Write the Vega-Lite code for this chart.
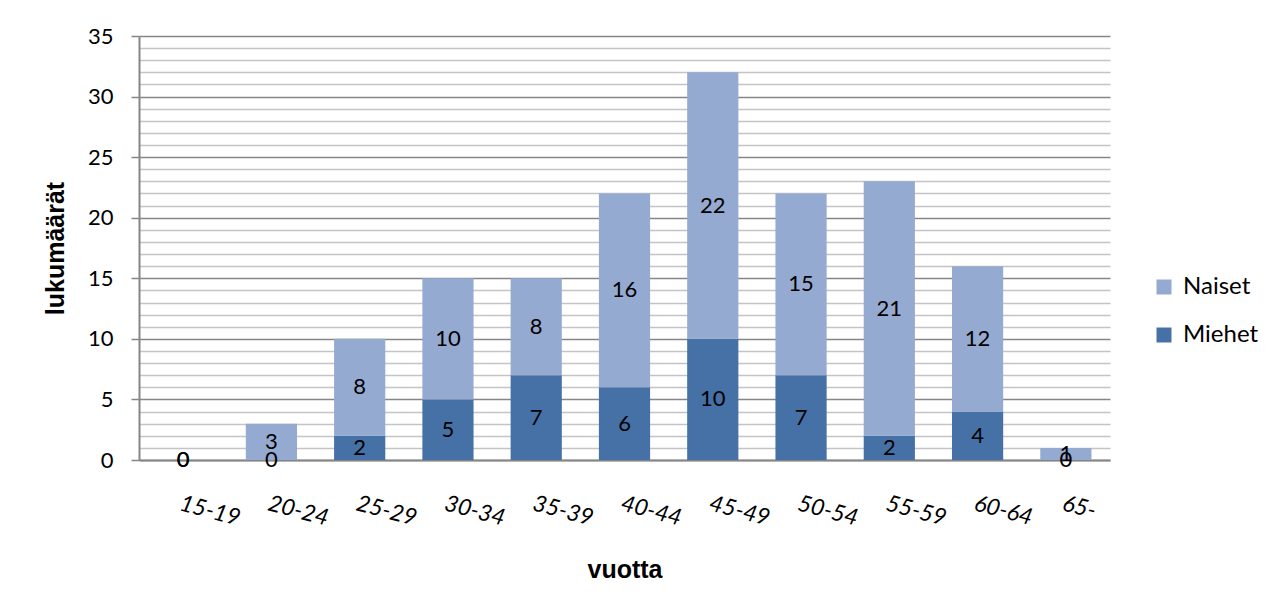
{
  "$schema": "https://vega.github.io/schema/vega-lite/v6.json",
  "width": 971,
  "height": 424,
  "autosize": "none",
  "padding": {"left": 139, "top": 36, "right": 168, "bottom": 152},
  "background": "white",
  "config": {
    "view": {"stroke": null},
    "font": "Lato"
  },
  "data": {
    "values": [
      {"ika": "15-19", "sukupuoli": "Miehet", "lukumaara": 0},
      {"ika": "15-19", "sukupuoli": "Naiset", "lukumaara": 0},
      {"ika": "20-24", "sukupuoli": "Miehet", "lukumaara": 0},
      {"ika": "20-24", "sukupuoli": "Naiset", "lukumaara": 3},
      {"ika": "25-29", "sukupuoli": "Miehet", "lukumaara": 2},
      {"ika": "25-29", "sukupuoli": "Naiset", "lukumaara": 8},
      {"ika": "30-34", "sukupuoli": "Miehet", "lukumaara": 5},
      {"ika": "30-34", "sukupuoli": "Naiset", "lukumaara": 10},
      {"ika": "35-39", "sukupuoli": "Miehet", "lukumaara": 7},
      {"ika": "35-39", "sukupuoli": "Naiset", "lukumaara": 8},
      {"ika": "40-44", "sukupuoli": "Miehet", "lukumaara": 6},
      {"ika": "40-44", "sukupuoli": "Naiset", "lukumaara": 16},
      {"ika": "45-49", "sukupuoli": "Miehet", "lukumaara": 10},
      {"ika": "45-49", "sukupuoli": "Naiset", "lukumaara": 22},
      {"ika": "50-54", "sukupuoli": "Miehet", "lukumaara": 7},
      {"ika": "50-54", "sukupuoli": "Naiset", "lukumaara": 15},
      {"ika": "55-59", "sukupuoli": "Miehet", "lukumaara": 2},
      {"ika": "55-59", "sukupuoli": "Naiset", "lukumaara": 21},
      {"ika": "60-64", "sukupuoli": "Miehet", "lukumaara": 4},
      {"ika": "60-64", "sukupuoli": "Naiset", "lukumaara": 12},
      {"ika": "65-", "sukupuoli": "Miehet", "lukumaara": 0},
      {"ika": "65-", "sukupuoli": "Naiset", "lukumaara": 1}
    ]
  },
  "encoding": {
    "x": {
      "field": "ika",
      "type": "nominal",
      "sort": null,
      "scale": {"paddingInner": 0.42, "paddingOuter": 0.21},
      "axis": {
        "title": "vuotta",
        "titleFont": "Liberation Sans",
        "titleFontSize": 25,
        "titleFontWeight": "bold",
        "titleColor": "black",
        "titleBaseline": "alphabetic",
        "titleY": 117,
        "labelAngle": 15,
        "labelAlign": "left",
        "labelBaseline": "top",
        "labelPadding": 32,
        "labelFont": "Lato",
        "labelFontStyle": "italic",
        "labelFontSize": 23,
        "labelColor": "black",
        "labelOverlap": false,
        "ticks": false,
        "domainColor": "#868686",
        "domainWidth": 2,
        "grid": false
      }
    },
    "y": {
      "field": "lukumaara",
      "type": "quantitative",
      "stack": "zero",
      "scale": {"domain": [0, 35], "nice": false},
      "axis": {
        "title": "lukumäärät",
        "titleFont": "Liberation Sans",
        "titleFontSize": 25,
        "titleFontWeight": "bold",
        "titleColor": "black",
        "titleBaseline": "alphabetic",
        "titleX": -76,
        "values": [0,1,2,3,4,5,6,7,8,9,10,11,12,13,14,15,16,17,18,19,20,21,22,23,24,25,26,27,28,29,30,31,32,33,34,35],
        "labelExpr": "datum.value % 5 === 0 ? datum.label : ''",
        "labelOverlap": false,
        "labelFont": "Lato",
        "labelFontSize": 22,
        "labelColor": "black",
        "labelPadding": 18,
        "tickSize": 8,
        "tickWidth": 1.5,
        "tickColor": "#868686",
        "tickOpacity": {"condition": {"test": "datum.value % 5 === 0", "value": 1}, "value": 0},
        "grid": true,
        "gridWidth": 1.5,
        "gridColor": {"condition": {"test": "datum.value % 5 === 0", "value": "#868686"}, "value": "#c4c4c4"},
        "domainColor": "#868686",
        "domainWidth": 2
      }
    },
    "order": {"field": "sukupuoli", "type": "nominal", "sort": "ascending"}
  },
  "layer": [
    {
      "mark": {"type": "bar"},
      "encoding": {
        "color": {
          "field": "sukupuoli",
          "type": "nominal",
          "scale": {"domain": ["Naiset", "Miehet"], "range": ["#95AAD1", "#4571A7"]},
          "legend": {
            "title": null,
            "orient": "none",
            "legendX": 1013,
            "legendY": 239,
            "padding": 0,
            "symbolType": "square",
            "symbolSize": 225,
            "symbolStrokeWidth": 0,
            "labelFont": "Lato",
            "labelFontSize": 24,
            "labelColor": "black",
            "labelOffset": 7,
            "rowPadding": 24
          }
        }
      }
    },
    {
      "mark": {"type": "text", "font": "Lato", "fontSize": 22, "color": "black", "align": "center", "baseline": "middle"},
      "encoding": {
        "y": {"field": "lukumaara", "type": "quantitative", "stack": "zero", "bandPosition": 0.5},
        "detail": {"field": "sukupuoli", "type": "nominal"},
        "text": {"field": "lukumaara", "type": "quantitative"}
      }
    }
  ]
}
